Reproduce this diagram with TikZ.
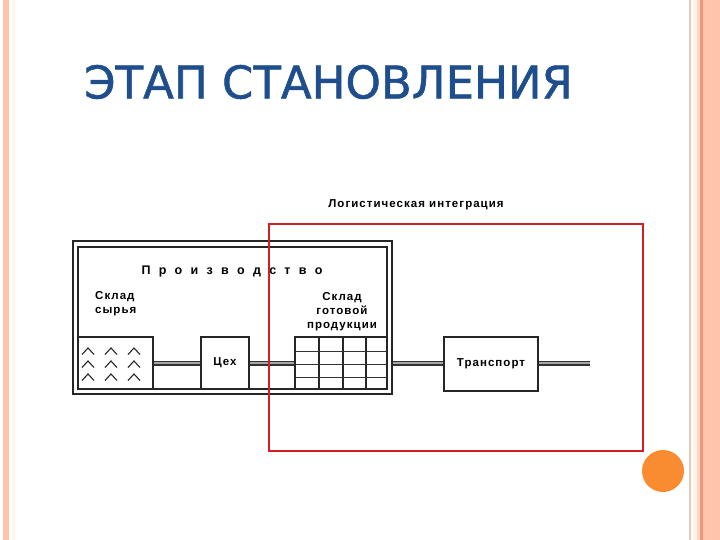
\documentclass[tikz,border=0pt]{standalone}
\usepackage{fontspec}
\setmainfont{Liberation Sans}
\newfontfamily\titlefont{DejaVu Sans}[FakeBold=1.2]
\newfontfamily\diag{Liberation Sans}[LetterSpace=9]
\definecolor{titleblue}{RGB}{31,78,140}
\definecolor{framered}{RGB}{212,30,36}
\definecolor{dotorange}{RGB}{249,140,48}
\definecolor{stripe}{RGB}{255,196,170}
\definecolor{stripedark}{RGB}{240,150,120}
\definecolor{stripetan}{RGB}{232,200,184}
\definecolor{cream}{RGB}{255,246,232}
\begin{document}
\begin{tikzpicture}[x=1pt,y=-1pt,
  box/.style={draw=black!85,line width=1.6pt,fill=white,inner sep=0pt},
  dline/.style={draw=black!80,line width=1.1pt,double=black!35,double distance=2.8pt},
  dtext/.style={font=\diag\bfseries\fontsize{11.5}{14}\selectfont,text=black},
  chev/.style={draw=black!85,line width=1.1pt},
  gridv/.style={draw=black!85,line width=1.5pt},
  gridh/.style={draw=black!80,line width=0.9pt}]
\useasboundingbox (0,0) rectangle (720,540);
% side stripes
\fill[stripe] (3,0) rectangle (9,540);
\fill[cream] (12,0) rectangle (14.5,540);
\fill[stripetan] (688.5,0) rectangle (690.5,540);
\fill[cream] (693,0) rectangle (697,540);
\fill[stripe!70] (697,0) rectangle (700,540);
\fill[stripedark] (700,0) rectangle (703,540);
\fill[stripe] (703,0) rectangle (720,540);
% title
\node[anchor=west,font=\titlefont\fontsize{45}{50}\selectfont,text=titleblue,inner sep=0pt] (title) at (84,82) {ЭТАП СТАНОВЛЕНИЯ};
% outer production frame
\node[draw=black!85,line width=2pt,minimum width=319pt,minimum height=153pt,inner sep=0pt] (prod) at (232.5,317.5) {};
\node[draw=black!85,line width=1.6pt,minimum width=309pt,minimum height=142pt,inner sep=0pt] (prodin) at (232.5,318) {};
\node[dtext,font=\diag\bfseries\fontsize{12.5}{14}\selectfont] (proizv) at (232,271) {\makebox[181pt][s]{П\hfill р\hfill о\hfill и\hfill з\hfill в\hfill о\hfill д\hfill с\hfill т\hfill в\hfill о}};
\node[dtext,anchor=west,align=left,inner sep=0pt] (skl1) at (95,304) {Склад\\сырья};
\node[dtext,align=center,inner sep=0pt] (skl2) at (342,312) {Склад\\готовой\\продукции};
% boxes
\node[box,minimum width=75pt,minimum height=52pt] (raw) at (115.5,363) {};
\node[box,minimum width=48pt,minimum height=52pt,dtext] (cex) at (225,363) {Цех};
\node[box,minimum width=92pt,minimum height=52pt] (grid) at (341,363) {};
\node[box,minimum width=94pt,minimum height=54pt,dtext] (tr) at (491,364) {Транспорт};
\coordinate (end) at (590,363);
% grid lines
\foreach \gx in {319,343,366} \draw[gridv] (\gx,337) -- (\gx,389);
\foreach \gy in {351,364,377} \draw[gridh] (295,\gy) -- (387,\gy);
\node[box,fill=none,minimum width=92pt,minimum height=52pt] at (341,363) {};
% chevrons
\foreach \cx in {88,111,134} \foreach \cy in {351,364,377}
  \draw[chev] (\cx-6,\cy+3.5) -- (\cx,\cy-3) -- (\cx+6,\cy+3.5);
% connectors
\draw[dline] (raw.east) -- (cex.west);
\draw[dline] (cex.east) -- (grid.west);
\draw[dline] (tr.west |- cex.east) -- (prod.east |- cex.east);
\draw[dline] (tr.east |- cex.east) -- (end);
% logistics label
\node[dtext,font=\diag\bfseries\fontsize{11.5}{13}\selectfont] (logi) at (416,205) {Логистическая интеграция};
% red frame
\draw[framered,line width=2.6pt] (269,224) rectangle (643,451);
% orange dot
\fill[dotorange] (663,471) circle (21);
\end{tikzpicture}
\end{document}
